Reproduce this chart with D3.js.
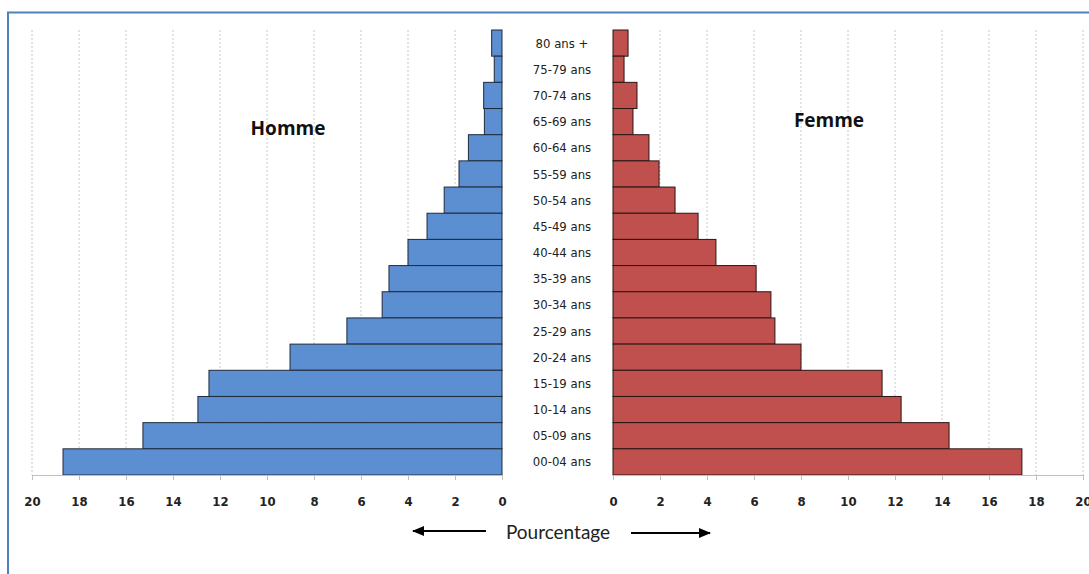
<!DOCTYPE html>
<html>
<head>
<meta charset="utf-8">
<script src="https://cdn.jsdelivr.net/npm/d3@7"></script>
<style>
  body { margin: 0; background: #fff; }
  svg { display: block; }
</style>
</head>
<body>
<div id="wrapper"></div>
<script>
const ageGroups = ["80 ans +", "75-79 ans", "70-74 ans", "65-69 ans", "60-64 ans", "55-59 ans",
    "50-54 ans", "45-49 ans", "40-44 ans", "35-39 ans", "30-34 ans", "25-29 ans",
    "20-24 ans", "15-19 ans", "10-14 ans", "05-09 ans", "00-04 ans"]
const hommeValues = [0.44, 0.33, 0.78, 0.75, 1.43, 1.83, 2.46, 3.19, 4.0, 4.81, 5.1, 6.6,
    9.02, 12.47, 12.94, 15.28, 18.68]
const femmeValues = [0.64, 0.47, 1.02, 0.85, 1.53, 1.96, 2.64, 3.62, 4.38, 6.09, 6.72, 6.89,
    8.0, 11.45, 12.26, 14.3, 17.4]
const tickValues = [0, 2, 4, 6, 8, 10, 12, 14, 16, 18, 20]

function drawPyramid() {
    const width = 1089
    const height = 574

    const wrapper = d3.select("#wrapper")
        .append("svg")
            .attr("width", width)
            .attr("height", height)

    // frame
    wrapper.append("path")
        .attr("d", `M8,${height} L8,12.5 L${width},12.5`)
        .attr("fill", "none")
        .attr("stroke", "#4f81bd")
        .attr("stroke-width", 2)

    const top = 30
    const bottom = 475

    const yScale = d3.scaleBand()
        .domain(ageGroups)
        .range([top, bottom])
        .padding(0)

    const xLeft = d3.scaleLinear().domain([0, 20]).range([502, 32])
    const xRight = d3.scaleLinear().domain([0, 20]).range([613, 1083])

    // gridlines
    const grid = wrapper.append("g")
    grid.selectAll(".gl").data(tickValues.filter(d => d > 0))
        .join("line")
            .attr("x1", d => xLeft(d)).attr("x2", d => xLeft(d))
            .attr("y1", top).attr("y2", bottom)
            .attr("stroke", "#c8c8c8").attr("stroke-dasharray", "2,2")
    grid.selectAll(".gr").data(tickValues.filter(d => d > 0))
        .join("line")
            .attr("class", "gr")
            .attr("x1", d => xRight(d)).attr("x2", d => xRight(d))
            .attr("y1", top).attr("y2", bottom)
            .attr("stroke", "#c8c8c8").attr("stroke-dasharray", "2,2")

    // bars
    wrapper.append("g").selectAll("rect")
        .data(ageGroups.map((a, i) => ({ age: a, v: hommeValues[i] })))
        .join("rect")
            .attr("x", d => xLeft(d.v))
            .attr("y", d => yScale(d.age))
            .attr("width", d => xLeft(0) - xLeft(d.v))
            .attr("height", yScale.bandwidth())
            .attr("fill", "#5b8fd2")
            .attr("stroke", "#1f2a3a")
            .attr("stroke-width", 1)

    wrapper.append("g").selectAll("rect")
        .data(ageGroups.map((a, i) => ({ age: a, v: femmeValues[i] })))
        .join("rect")
            .attr("x", xRight(0))
            .attr("y", d => yScale(d.age))
            .attr("width", d => xRight(d.v) - xRight(0))
            .attr("height", yScale.bandwidth())
            .attr("fill", "#c0504d")
            .attr("stroke", "#2a1414")
            .attr("stroke-width", 1)

    // axes
    const styleAxis = g => {
        g.select(".domain").attr("stroke", "#bfbfbf")
        g.selectAll(".tick line").attr("stroke", "#bfbfbf")
        g.selectAll(".tick text")
            .attr("font-family", "'Liberation Sans Narrow', 'DejaVu Sans Condensed', sans-serif")
            .attr("font-weight", "bold")
            .attr("font-size", 13)
            .attr("fill", "#222")
            .attr("dy", "1.75em")
    }
    wrapper.append("g")
        .attr("transform", `translate(0,${bottom})`)
        .call(d3.axisBottom(xLeft).tickValues(tickValues).tickSize(5).tickFormat(d3.format("d")))
        .call(styleAxis)
    wrapper.append("g")
        .attr("transform", `translate(0,${bottom})`)
        .call(d3.axisBottom(xRight).tickValues(tickValues).tickSize(5).tickFormat(d3.format("d")))
        .call(styleAxis)

    // age labels
    wrapper.append("g").selectAll("text")
        .data(ageGroups)
        .join("text")
            .attr("x", 562)
            .attr("y", d => yScale(d) + yScale.bandwidth() / 2)
            .attr("dy", "0.35em")
            .attr("text-anchor", "middle")
            .attr("font-family", "'Liberation Sans Narrow', 'DejaVu Sans Condensed', sans-serif")
            .attr("font-size", 13)
            .attr("fill", "#222")
            .text(d => d)

    // titles
    wrapper.append("text")
        .attr("x", 288).attr("y", 135)
        .attr("text-anchor", "middle")
        .attr("font-family", "'Open Sans', sans-serif")
        .attr("font-weight", "bold")
        .attr("font-size", 19)
        .attr("fill", "#111")
        .text("Homme")
    wrapper.append("text")
        .attr("x", 829).attr("y", 127)
        .attr("text-anchor", "middle")
        .attr("font-family", "'Open Sans', sans-serif")
        .attr("font-weight", "bold")
        .attr("font-size", 19)
        .attr("fill", "#111")
        .text("Femme")

    // Pourcentage with arrows
    wrapper.append("text")
        .attr("x", 558).attr("y", 539)
        .attr("text-anchor", "middle")
        .attr("font-family", "Lato, sans-serif")
        .attr("font-size", 19)
        .attr("fill", "#222")
        .text("Pourcentage")

    const defs = wrapper.append("defs")
    defs.append("marker")
        .attr("id", "head")
        .attr("viewBox", "0 0 10 10")
        .attr("refX", 9).attr("refY", 5)
        .attr("markerWidth", 7).attr("markerHeight", 7)
        .attr("orient", "auto")
        .append("path")
            .attr("d", "M0,1 L10,5 L0,9 Z")
            .attr("fill", "#000")

    wrapper.append("line")
        .attr("x1", 486).attr("y1", 531)
        .attr("x2", 413).attr("y2", 531)
        .attr("stroke", "#000").attr("stroke-width", 1.8)
        .attr("marker-end", "url(#head)")
    wrapper.append("line")
        .attr("x1", 631).attr("y1", 533)
        .attr("x2", 710).attr("y2", 533)
        .attr("stroke", "#000").attr("stroke-width", 1.8)
        .attr("marker-end", "url(#head)")
}

drawPyramid()
</script>
</body>
</html>
